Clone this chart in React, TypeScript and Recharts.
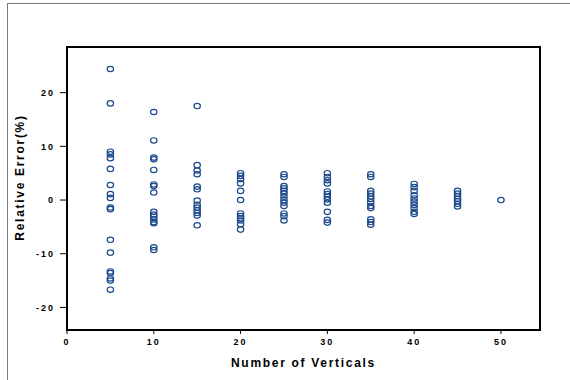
import React from "react";
import { ScatterChart, Scatter, XAxis, YAxis, ReferenceArea, Label } from "recharts";

const verticals = [5, 10, 15, 20, 25, 30, 35, 40, 45, 50];

const errAt5 = [24.4, 18.0, 9.0, 8.5, 7.8, 5.8, 2.8, 1.1, 0.4, -1.4, -1.7, -7.4, -9.8, -13.3, -13.6, -14.6, -15.0, -16.7];
const errAt10 = [16.4, 11.1, 7.9, 7.6, 5.6, 2.9, 2.6, 1.4, -2.2, -2.7, -3.1, -3.6, -4.1, -4.3, -8.8, -9.3];
const errAt15 = [17.5, 6.5, 5.5, 4.8, 2.5, 2.0, -0.1, -0.9, -1.4, -1.9, -2.4, -2.9, -4.7];
const errAt20 = [5.0, 4.5, 3.9, 3.1, 1.7, 0.0, -2.5, -3.0, -3.4, -3.8, -4.5, -5.5];
const errAt25 = [4.8, 4.3, 2.6, 2.2, 1.7, 1.2, 0.6, 0.0, -0.5, -1.1, -2.5, -3.0, -3.8];
const errAt30 = [5.0, 4.3, 3.7, 3.1, 1.6, 1.1, 0.6, 0.1, -0.5, -2.2, -3.7, -4.2];
const errAt35 = [4.8, 4.3, 1.7, 1.2, 0.7, 0.2, -0.4, -1.1, -1.5, -3.6, -4.1, -4.6];
const errAt40 = [3.0, 2.4, 1.7, 0.9, 0.3, -0.3, -0.9, -1.5, -2.2, -2.6];
const errAt45 = [1.7, 1.2, 0.7, 0.2, -0.2, -0.7, -1.2];
const errAt50 = [0.0];

const errors = [errAt5, errAt10, errAt15, errAt20, errAt25, errAt30, errAt35, errAt40, errAt45, errAt50];

const xTicks = [0, 10, 20, 30, 40, 50];
const yTicks = [-20, -10, 0, 10, 20];

const points = verticals.flatMap((v, i) => errors[i].map((e) => ({ x: v, y: e })));

const FONT = "'Liberation Sans', Arial, sans-serif";
const BLUE = "#1c4a8c";
const X_DOMAIN: [number, number] = [0, 54.5];
const Y_DOMAIN: [number, number] = [-24.2, 28.5];

const Marker = (props: any) => {
  const { cx, cy } = props;
  if (cx == null || cy == null) return null;
  return <ellipse cx={cx} cy={cy} rx={3.2} ry={2.7} fill="none" stroke={BLUE} strokeWidth={1.2} />;
};

const tickStyle = { fontFamily: FONT, fontSize: 9, fontWeight: "bold", fill: "#000", letterSpacing: 2 } as any;

export default function App() {
  return (
    <div style={{ position: "absolute", left: 0, top: 0, width: 570, height: 380, overflow: "hidden", background: "#fff" }}>
      <div
        style={{
          position: "absolute",
          left: 7,
          top: 3,
          width: 700,
          height: 500,
          border: "1px solid #7a7a7a",
          boxSizing: "border-box",
        }}
      />
      <div style={{ position: "absolute", left: 0, top: 0 }}>
        <ScatterChart width={570} height={380} margin={{ top: 47, right: 30, bottom: 20, left: 0 }}>
          <XAxis
            type="number"
            dataKey="x"
            domain={X_DOMAIN}
            ticks={xTicks}
            allowDataOverflow
            interval={0}
            height={30}
            tickSize={4}
            tickMargin={5}
            axisLine={{ stroke: "#000", strokeWidth: 2 }}
            tickLine={{ stroke: "#000", strokeWidth: 1 }}
            tick={tickStyle}
          >
            <Label
              content={(p: any) => {
                const vb = p.viewBox || {};
                return (
                  <text
                    x={vb.x + vb.width / 2}
                    y={vb.y + 37}
                    textAnchor="middle"
                    fontFamily={FONT}
                    fontSize={12}
                    fontWeight="bold"
                    letterSpacing={1.7}
                    fill="#000"
                  >
                    Number of Verticals
                  </text>
                );
              }}
            />
          </XAxis>
          <YAxis
            type="number"
            dataKey="y"
            domain={Y_DOMAIN}
            ticks={yTicks}
            allowDataOverflow
            interval={0}
            width={67}
            tickSize={7}
            tickMargin={5}
            axisLine={{ stroke: "#000", strokeWidth: 2 }}
            tickLine={{ stroke: "#000", strokeWidth: 1 }}
            tick={tickStyle}
          >
            <Label
              content={(p: any) => {
                const vb = p.viewBox || {};
                const x = vb.x + 24;
                const y = vb.y + vb.height / 2 - 11;
                return (
                  <text
                    x={x}
                    y={y}
                    transform={`rotate(-90, ${x}, ${y})`}
                    textAnchor="middle"
                    fontFamily={FONT}
                    fontSize={12}
                    fontWeight="bold"
                    letterSpacing={1.7}
                    fill="#000"
                  >
                    Relative Error(%)
                  </text>
                );
              }}
            />
          </YAxis>
          <ReferenceArea
            x1={X_DOMAIN[0]}
            x2={X_DOMAIN[1]}
            y1={Y_DOMAIN[0]}
            y2={Y_DOMAIN[1]}
            fill="none"
            fillOpacity={0}
            stroke="#000"
            strokeWidth={2}
            ifOverflow="visible"
          />
          <Scatter data={points} shape={Marker} isAnimationActive={false} />
        </ScatterChart>
      </div>
    </div>
  );
}
